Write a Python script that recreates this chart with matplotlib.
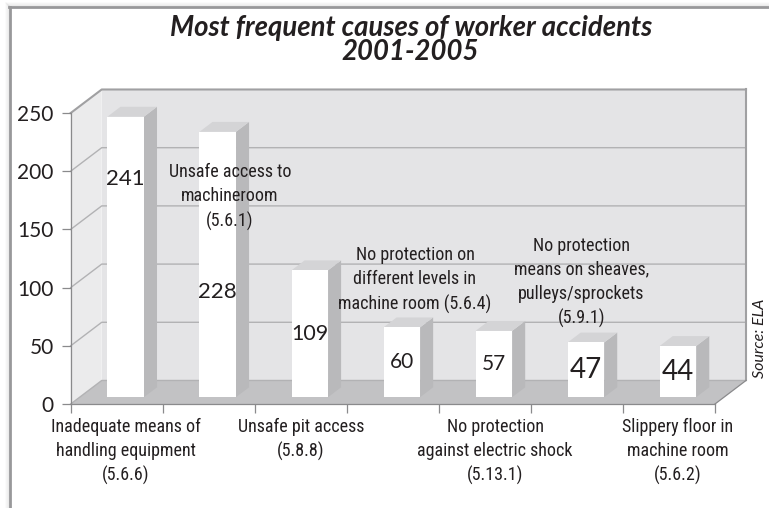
import matplotlib
matplotlib.use("Agg")
import matplotlib.pyplot as plt
from matplotlib.patches import Polygon
from matplotlib.lines import Line2D
from matplotlib import font_manager as fm

# ---------------- data ----------------
categories = [
    "Inadequate means of\nhandling equipment\n(5.6.6)",
    "Unsafe access to\nmachineroom\n(5.6.1)",
    "Unsafe pit access\n(5.8.8)",
    "No protection on\ndifferent levels in\nmachine room (5.6.4)",
    "No protection\nagainst electric shock\n(5.13.1)",
    "No protection\nmeans on sheaves,\npulleys/sprockets\n(5.9.1)",
    "Slippery floor in\nmachine room\n(5.6.2)",
]
values = [241, 228, 109, 60, 57, 47, 44]
y_ticks = [0, 50, 100, 150, 200, 250]
title_lines = ["Most frequent causes of worker accidents", "2001-2005"]
source_text = "Source: ELA"

# ---------------- layout / style ----------------
W, H = 769, 508
AX_L, AX_R, AX_B, AX_T = 70.7, 715.0, 404.0, 113.0   # pixel frame of front plane
DEPTH_X = 0.337       # depth offset in category units
DEPTH_Y = 20.2        # depth offset in value units
BAR_W = 0.397
D_FRONT = 0.29
D_THICK = 0.42

TXT = "#231f20"
WALL_BACK = "#e4e4e6"
WALL_LEFT = "#ebebec"
FLOOR = "#c2c2c4"
GRID = "#b2b2b4"
EDGE = "#a0a0a2"
AXISC = "#8a8a8c"
BAR_FRONT = "#ffffff"
BAR_SIDE = "#b9b9bb"
BAR_TOP = "#d4d4d6"

names = {f.name for f in fm.fontManager.ttflist}
cond = None
for cand in ["Liberation Sans Narrow", "Roboto Condensed", "Open Sans Condensed"]:
    if cand in names:
        cond = dict(family=cand)
        break
if cond is None:
    if any(f.name == "DejaVu Sans" and f.stretch in ("condensed", 400) for f in fm.fontManager.ttflist):
        cond = dict(family="DejaVu Sans", stretch="condensed")
    else:
        cond = dict(family="Liberation Sans")
main_font = "Lato" if "Lato" in names else "DejaVu Sans"

fig = plt.figure(figsize=(W / 100, H / 100), dpi=100)
fig.patch.set_facecolor("white")
ax = fig.add_axes([AX_L / W, (H - AX_B) / H, (AX_R - AX_L) / W, (AX_B - AX_T) / H])
n = len(values)
ax.set_xlim(0, n)
ax.set_ylim(0, 250)
ax.set_facecolor("none")
for s in ["top", "right"]:
    ax.spines[s].set_visible(False)
for s in ["left", "bottom"]:
    ax.spines[s].set_color(AXISC)
    ax.spines[s].set_linewidth(0.9)
    ax.spines[s].set_zorder(4)

ymax = y_ticks[-1]
# walls and floor
left_wall = Polygon([(0, 0), (DEPTH_X, DEPTH_Y), (DEPTH_X, ymax + DEPTH_Y), (0, ymax)],
                    closed=True, facecolor=WALL_LEFT, edgecolor="none", zorder=0, clip_on=False)
back_wall = Polygon([(DEPTH_X, DEPTH_Y), (n + DEPTH_X, DEPTH_Y), (n + DEPTH_X, ymax + DEPTH_Y),
                     (DEPTH_X, ymax + DEPTH_Y)],
                    closed=True, facecolor=WALL_BACK, edgecolor="none", zorder=0, clip_on=False)
floor = Polygon([(0, 0), (n, 0), (n + DEPTH_X, DEPTH_Y), (DEPTH_X, DEPTH_Y)],
                closed=True, facecolor=FLOOR, edgecolor="none", zorder=0.5, clip_on=False)
for p in (left_wall, back_wall, floor):
    ax.add_patch(p)

for v in y_ticks:
    c = EDGE if v == ymax else GRID
    lw = 1.5 if v == ymax else 1.0
    ax.add_line(Line2D([0, DEPTH_X, n + DEPTH_X], [v, v + DEPTH_Y, v + DEPTH_Y],
                       color=c, lw=lw, zorder=1, clip_on=False))
# right edges
ax.add_line(Line2D([n + DEPTH_X, n + DEPTH_X], [DEPTH_Y, ymax + DEPTH_Y],
                   color=EDGE, lw=1.5, zorder=1, clip_on=False))
ax.add_line(Line2D([n, n + DEPTH_X], [0, DEPTH_Y], color=AXISC, lw=0.9, zorder=1, clip_on=False))

# bars
for i, v in enumerate(values):
    x0 = i + (1 - BAR_W) / 2 + D_FRONT * DEPTH_X
    y0 = D_FRONT * DEPTH_Y
    tx, ty = D_THICK * DEPTH_X, D_THICK * DEPTH_Y
    side = Polygon([(x0 + BAR_W, y0), (x0 + BAR_W + tx, y0 + ty), (x0 + BAR_W + tx, y0 + ty + v),
                    (x0 + BAR_W, y0 + v)], closed=True, facecolor=BAR_SIDE, edgecolor="none",
                   zorder=2, clip_on=False)
    top = Polygon([(x0, y0 + v), (x0 + BAR_W, y0 + v), (x0 + BAR_W + tx, y0 + v + ty),
                   (x0 + tx, y0 + v + ty)], closed=True, facecolor=BAR_TOP, edgecolor="none",
                  zorder=2, clip_on=False)
    ax.add_patch(side)
    ax.add_patch(top)
    ax.bar([x0], [v], width=BAR_W, bottom=y0, align="edge", color=BAR_FRONT,
           edgecolor="none", zorder=3, clip_on=False)

# value labels
label_frac = [0.776, 0.395, 0.5, 0.5, 0.5, 0.5, 0.5]
label_size = [16, 16, 15.5, 15, 15, 20, 20]
for i, v in enumerate(values):
    xc = i + 0.5 + D_FRONT * DEPTH_X
    yc = D_FRONT * DEPTH_Y + v * label_frac[i]
    ax.text(xc, yc, str(v), ha="center", va="center", fontsize=label_size[i],
            family=main_font, color=TXT, zorder=6)

# category labels
cat_pos = {
    0: (0.598, -12.0, "top"),
    1: (1.73, 177.8, "center"),
    2: (2.50, -12.0, "top"),
    3: (3.74, 106.5, "center"),
    4: (4.61, -12.0, "top"),
    5: (5.55, 104.4, "center"),
    6: (6.598, -12.0, "top"),
}
cat_size = 13
for i, lab in enumerate(categories):
    x, y, va = cat_pos[i]
    ax.text(x, y, lab, ha="center", va=va, multialignment="center", fontsize=cat_size,
            color=TXT, linespacing=1.42, zorder=6, clip_on=False, **cond)

# ticks
ax.set_yticks(y_ticks)
ax.set_yticklabels([str(t) for t in y_ticks], fontsize=15, family=main_font, color=TXT)
ax.set_xticks(range(n + 1))
ax.set_xticklabels([])
ax.tick_params(axis="both", direction="out", length=6.3, width=0.9, color=AXISC)
ax.tick_params(axis="y", pad=6)

# title
fig.text(411 / W, 1 - 36 / H, title_lines[0], ha="center", va="baseline", fontsize=19.8,
         family=main_font, weight="bold", style="italic", color=TXT)
fig.text(410 / W, 1 - 60 / H, title_lines[1], ha="center", va="baseline", fontsize=19.8,
         family=main_font, weight="bold", style="italic", color=TXT)

# source
fig.text(760 / W, 1 - 338 / H, source_text, ha="center", va="center", rotation=90,
         fontsize=11.5, family=main_font, style="italic", color=TXT)

# frame with soft shadow
for k, a in enumerate([0.05, 0.07, 0.1, 0.14]):
    off = 4 - k
    fig.add_artist(Line2D([(10.3 - off) / W, (10.3 - off) / W], [0, 1 - (7 - off) / H],
                          transform=fig.transFigure, color="#000000", alpha=a * 0.4, lw=1.2))
    fig.add_artist(Line2D([(10.3 - off) / W, 1], [1 - (7 - off) / H, 1 - (7 - off) / H],
                          transform=fig.transFigure, color="#000000", alpha=a * 0.4, lw=1.2))
fig.add_artist(Line2D([10.3 / W, 10.3 / W], [0, 1 - 7 / H], transform=fig.transFigure,
                      color="#98989a", lw=2.0))
fig.add_artist(Line2D([9.3 / W, 1], [1 - 7 / H, 1 - 7 / H], transform=fig.transFigure,
                      color="#98989a", lw=2.0))

fig.savefig("out.png", dpi=100)
